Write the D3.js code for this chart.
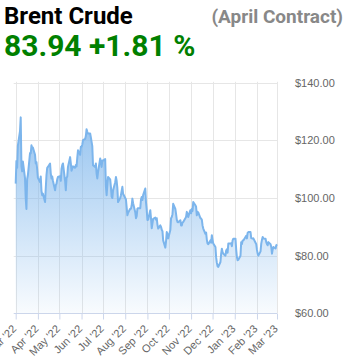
<!DOCTYPE html>
<html>
<head>
<meta charset="utf-8">
<script src="https://cdn.jsdelivr.net/npm/d3@7"></script>
<style>
  body { margin: 0; background: #fff; }
  svg { display: block; font-family: Roboto, "Noto Sans", sans-serif; }
  .grid line { stroke: #e6e6e6; stroke-width: 1; }
  .x.axis path, .x.axis line { stroke: #ccd6eb; }
  .axis text { fill: #666; font-size: 11px; }
</style>
</head>
<body>
<div id="chart"><svg></svg></div>
<script>
var TITLE = "Brent Crude";
var SUBTITLE = "(April Contract)";
var PRICE = "83.94 +1.81 %";

// daily closes, one value per weekday of each month
var mar22 = [105.0, 112.9, 110.5, 118.1, 123.2, 128.0, 111.1, 109.3, 112.7, 106.9, 99.9, 96.2, 106.6, 107.9, 115.6, 115.5, 118.3, 117.2, 117.5, 115.0, 112.0, 112.5, 110.0];
var apr22 = [107.0, 105.6, 107.5, 102.5, 101.0, 101.5, 98.6, 103.5, 108.0, 110.5, 110.8, 112.0, 108.5, 106.8, 107.5, 106.0, 102.7, 104.5, 105.0, 106.5, 107.3];
var may22 = [107.6, 106.0, 110.1, 111.4, 112.0, 106.0, 102.7, 107.0, 107.5, 110.8, 114.2, 112.0, 109.5, 110.3, 111.0, 110.5, 111.5, 111.0, 114.0, 116.6, 115.0, 117.8];
var jun22 = [117.8, 118.5, 120.1, 120.5, 121.5, 123.9, 123.0, 122.4, 122.4, 121.0, 119.5, 118.0, 111.4, 110.8, 112.0, 108.5, 106.8, 109.0, 113.7, 112.5, 110.8, 113.0];
var jul22 = [113.0, 113.5, 104.0, 101.0, 104.5, 107.3, 106.5, 103.9, 100.5, 100.0, 102.7, 105.5, 107.3, 106.0, 103.5, 98.6, 100.0, 101.0, 102.5, 103.9, 101.5];
var aug22 = [100.0, 99.5, 96.8, 94.0, 94.9, 96.3, 96.3, 97.4, 99.8, 98.2, 95.1, 93.0, 93.7, 96.3, 96.5, 96.5, 99.5, 100.4, 99.3, 101.0, 103.3, 98.6, 96.0];
var sep22 = [92.4, 92.5, 95.8, 93.0, 89.5, 91.1, 92.8, 93.2, 92.5, 93.0, 90.8, 89.4, 90.5, 90.0, 89.0, 88.5, 85.3, 82.8, 85.0, 88.2, 87.5, 86.0];
var oct22 = [88.9, 93.0, 93.4, 94.4, 98.0, 96.2, 94.5, 92.5, 91.7, 91.6, 92.3, 90.5, 90.5, 91.5, 91.7, 93.0, 93.5, 95.2, 94.5, 93.4, 95.8];
var nov22 = [94.7, 96.2, 95.5, 98.6, 97.5, 96.9, 94.0, 95.2, 95.0, 93.0, 92.9, 92.5, 90.5, 89.4, 87.6, 88.0, 85.5, 84.2, 84.0, 85.3, 84.5, 87.1];
var dec22 = [85.5, 84.2, 83.0, 79.4, 77.5, 76.3, 76.1, 77.8, 80.7, 82.4, 81.2, 80.7, 80.0, 81.8, 82.2, 81.0, 84.2, 84.2, 84.3, 83.3, 85.3, 85.9];
var jan23 = [85.9, 82.1, 79.5, 78.4, 78.6, 80.0, 84.7, 84.0, 85.3, 85.3, 86.5, 86.9, 86.0, 87.9, 88.2, 88.2, 86.1, 86.0, 85.9, 86.0, 84.5, 84.0];
var feb23 = [82.0, 80.7, 80.0, 81.5, 84.2, 85.5, 86.5, 86.0, 85.9, 84.7, 84.0, 83.6, 84.7, 84.0, 83.0, 80.7, 82.2, 83.0, 82.5, 83.6];
var mar23 = [83.94];

var months = [
    { year: 2022, month: 2, values: mar22 },
    { year: 2022, month: 3, values: apr22 },
    { year: 2022, month: 4, values: may22 },
    { year: 2022, month: 5, values: jun22 },
    { year: 2022, month: 6, values: jul22 },
    { year: 2022, month: 7, values: aug22 },
    { year: 2022, month: 8, values: sep22 },
    { year: 2022, month: 9, values: oct22 },
    { year: 2022, month: 10, values: nov22 },
    { year: 2022, month: 11, values: dec22 },
    { year: 2023, month: 0, values: jan23 },
    { year: 2023, month: 1, values: feb23 },
    { year: 2023, month: 2, values: mar23 }
];

var yTicks = [60, 80, 100, 120, 140];

function buildSeries() {
    var out = [];
    months.forEach(function(m) {
        var days = d3.timeDays(new Date(m.year, m.month, 1), new Date(m.year, m.month + 1, 1))
            .filter(function(d) { return d.getDay() !== 0 && d.getDay() !== 6; });
        m.values.forEach(function(v, i) {
            out.push({ date: days[i], value: v });
        });
    });
    return out;
}

function drawChart() {
    var data = buildSeries();

    var W = 347, H = 360;
    var plot = { left: 15.7, right: 277, top: 82.8, bottom: 313.3 };

    var svg = d3.select("#chart svg")
        .attr("width", W)
        .attr("height", H);

    // header
    svg.append("text")
        .attr("x", 4).attr("y", 24)
        .attr("font-size", "24px").attr("font-weight", "bold").attr("fill", "#000")
        .text(TITLE);
    svg.append("text")
        .attr("x", 343).attr("y", 23)
        .attr("text-anchor", "end")
        .attr("font-size", "19px").attr("font-weight", "bold").attr("fill", "#888")
        .text(SUBTITLE);
    svg.append("text")
        .attr("x", 4).attr("y", 56)
        .attr("font-size", "30px").attr("font-weight", "bold").attr("fill", "#008000")
        .text(PRICE);

    var x = d3.scaleTime()
        .domain([data[0].date, data[data.length - 1].date])
        .range([plot.left, plot.right]);

    var y = d3.scaleLinear()
        .domain([60, 140])
        .range([plot.bottom, plot.top]);

    var monthTicks = d3.timeMonths(new Date(2022, 2, 1), new Date(2023, 2, 2));

    // gridlines
    var grid = svg.append("g").attr("class", "grid");
    grid.selectAll(".vg")
        .data(monthTicks)
        .enter().append("line")
        .attr("x1", function(d) { return Math.round(x(d)) + 0.5; })
        .attr("x2", function(d) { return Math.round(x(d)) + 0.5; })
        .attr("y1", plot.top - 1)
        .attr("y2", plot.bottom);
    grid.selectAll(".hg")
        .data(yTicks.slice(1))
        .enter().append("line")
        .attr("x1", plot.left - 2)
        .attr("x2", plot.right)
        .attr("y1", function(d) { return Math.round(y(d)) + 0.5; })
        .attr("y2", function(d) { return Math.round(y(d)) + 0.5; });

    var defs = svg.append("defs");
    var grad = defs.append("linearGradient")
        .attr("id", "areaFill")
        .attr("gradientUnits", "userSpaceOnUse")
        .attr("x1", 0).attr("x2", 0)
        .attr("y1", y(d3.max(data, function(d) { return d.value; })))
        .attr("y2", plot.bottom);
    grad.append("stop").attr("offset", "0%").attr("stop-color", "#7cb5ec").attr("stop-opacity", 0.8);
    grad.append("stop").attr("offset", "100%").attr("stop-color", "#7cb5ec").attr("stop-opacity", 0.05);

    var area = d3.area()
        .x(function(d) { return x(d.date); })
        .y0(plot.bottom)
        .y1(function(d) { return y(d.value); });

    var line = d3.line()
        .x(function(d) { return x(d.date); })
        .y(function(d) { return y(d.value); });

    svg.append("path")
        .datum(data)
        .attr("fill", "url(#areaFill)")
        .attr("d", area);

    svg.append("path")
        .datum(data)
        .attr("fill", "none")
        .attr("stroke", "#7cb5ec")
        .attr("stroke-width", 2)
        .attr("stroke-linejoin", "round")
        .attr("d", line);

    // x axis
    var xAxis = d3.axisBottom(x)
        .tickValues(monthTicks)
        .tickSize(6)
        .tickSizeOuter(0)
        .tickFormat(d3.timeFormat("%b '%y"));

    svg.append("g")
        .attr("class", "x axis")
        .attr("transform", "translate(0," + (Math.round(plot.bottom) + 0.5) + ")")
        .call(xAxis)
        .selectAll("text")
        .attr("text-anchor", "end")
        .attr("y", 0)
        .attr("dy", "0")
        .attr("transform", "translate(1,16) rotate(-45)");

    svg.select(".x.axis path.domain")
        .attr("d", "M" + (plot.left - 2) + ",0H" + plot.right);

    // y axis on the right
    var yAxis = d3.axisRight(y)
        .tickValues(yTicks)
        .tickSize(0)
        .tickPadding(18)
        .tickFormat(function(d) { return "$" + d.toFixed(2); });

    svg.append("g")
        .attr("class", "y axis")
        .attr("transform", "translate(" + plot.right + ",0)")
        .call(yAxis)
        .call(function(g) { g.select(".domain").remove(); });
}

drawChart();
</script>
</body>
</html>
